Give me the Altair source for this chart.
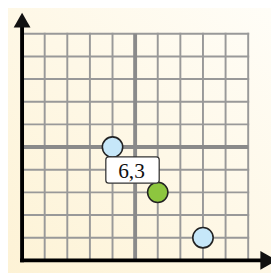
import altair as alt
import pandas as pd

# ---- data ----
grid_vals = [0, 1, 2, 3, 4, 5, 6, 7, 8, 9, 10]
thick_vals = [5]
pt_x = [4, 6, 8]
pt_y = [5, 3, 1]
pt_kind = ["other", "selected", "other"]
pt_label = ["", "6,3", ""]

thin = [v for v in grid_vals if v not in thick_vals and v != 0]
grid_df = pd.DataFrame({"v": thin, "lo": 0, "hi": 10})
thick_df = pd.DataFrame({"v": thick_vals, "lo": 0, "hi": 10})
pts = pd.DataFrame({"x": pt_x, "y": pt_y, "kind": pt_kind, "label": pt_label})
lab = pts[pts["label"] != ""].reset_index(drop=True)

AXIS_END = 10.5
ARROW_Y = 10.6
ARROW_X = 10.9
axis_df = pd.DataFrame({"zero": [0], "end": [AXIS_END], "ay": [ARROW_Y], "ax": [ARROW_X]})
bg_df = pd.DataFrame({"a": [-1.0], "b": [12.0]})

xs = alt.Scale(domain=[0, 10], range=[14.5, 247.5], nice=False, zero=False)
ys = alt.Scale(domain=[0, 10], range=[256, 22.5], nice=False, zero=False)

def X(f):
    return alt.X(f, type="quantitative", scale=xs, axis=None)

def Y(f):
    return alt.Y(f, type="quantitative", scale=ys, axis=None)

bg = alt.Chart(bg_df).mark_rect(fill={"gradient": "linear", "x1": 0, "y1": 1, "x2": 1, "y2": 0,
          "stops": [{"offset": 0, "color": "#fdf2d4"}, {"offset": 1, "color": "#fffefa"}]}).encode(
    x=X("a"), x2="b", y=Y("a"), y2="b")

base_grid = alt.Chart(grid_df)
vthin = base_grid.mark_rule(color="#999999", strokeWidth=2, strokeCap="square").encode(
    x=X("v"), y=Y("lo"), y2="hi")
hthin = base_grid.mark_rule(color="#999999", strokeWidth=2, strokeCap="square").encode(
    y=Y("v"), x=X("lo"), x2="hi")
base_thick = alt.Chart(thick_df)
vthick = base_thick.mark_rule(color="#8a8a8a", strokeWidth=4).encode(
    x=X("v"), y=Y("lo"), y2="hi")
hthick = base_thick.mark_rule(color="#8a8a8a", strokeWidth=4).encode(
    y=Y("v"), x=X("lo"), x2="hi")

ax = alt.Chart(axis_df)
yaxis = ax.mark_rule(color="#000000", strokeWidth=4, strokeCap="square").encode(
    x=X("zero"), y=Y("zero"), y2="end")
xaxis = ax.mark_rule(color="#000000", strokeWidth=4, strokeCap="square").encode(
    y=Y("zero"), x=X("zero"), x2="end")
up_arrow = ax.mark_point(shape="triangle-up", filled=True, color="#111111", size=300, opacity=1).encode(
    x=X("zero"), y=Y("ay"))
right_arrow = ax.mark_point(shape="triangle-right", filled=True, color="#111111", size=380, opacity=1).encode(
    x=X("ax"), y=Y("zero"))

points = alt.Chart(pts).mark_point(filled=True, size=440, stroke="#222222", strokeWidth=1.6, opacity=1, shape="circle").encode(
    x=X("x"), y=Y("y"),
    fill=alt.Fill("kind:N", scale=alt.Scale(domain=["other", "selected"], range=["#c6e7f9", "#8dc63f"]), legend=None))

box = alt.Chart(lab).mark_rect(width=55, height=27, xOffset=-26, yOffset=-23, fill="#ffffff",
                               stroke="#333333", strokeWidth=1.3, cornerRadius=3).encode(
    x=X("x"), y=Y("y"))
text = alt.Chart(lab).mark_text(font="Times New Roman, Liberation Serif, serif", fontSize=22, color="#111111",
                                dx=-27, dy=-22, align="center", baseline="middle").encode(
    x=X("x"), y=Y("y"), text="label:N")

chart = alt.layer(bg, vthin, hthin, vthick, hthick, yaxis, xaxis, up_arrow, right_arrow, points, box, text).properties(
    width=271, height=265, autosize=alt.AutoSizeParams(type="none"), padding=0,
    background="#fdf8e6"
).configure_view(strokeWidth=0)

chart.save("out.html", embed_options={"renderer": "svg", "actions": False})
